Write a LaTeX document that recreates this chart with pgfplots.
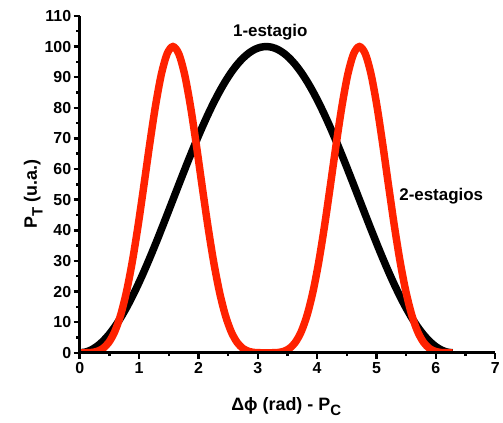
\documentclass[border=0pt]{standalone}
\usepackage{fontspec}
\setmainfont{Liberation Sans}
\usepackage{pgfplots}
\usepackage{pgfplotstable}
\pgfplotsset{compat=1.18}
\definecolor{cRed}{HTML}{FF2200}

% x, 1 stage, 2 stages
\pgfplotstableread{
x      one     two
0.0000 0.000   0.000
0.0982 0.241   0.006
0.1963 0.961   0.091
0.2945 2.153   0.457
0.3927 3.806   1.423
0.4909 5.904   3.401
0.5890 8.427   6.846
0.6872 11.350  12.18
0.7854 14.645  19.72
0.8836 18.280  29.51
0.9817 22.221  41.32
1.0799 26.430  54.49
1.1781 30.866  68.01
1.2763 35.486  80.61
1.3744 40.246  90.90
1.4726 45.099  97.65
1.5708 50.000  100.0
1.6690 54.901  97.65
1.7671 59.754  90.90
1.8653 64.514  80.61
1.9635 69.134  68.01
2.0617 73.570  54.49
2.1598 77.779  41.32
2.2580 81.720  29.51
2.3562 85.355  19.72
2.4544 88.650  12.18
2.5525 91.573  6.846
2.6507 94.096  3.401
2.7489 96.194  1.423
2.8471 97.847  0.457
2.9452 99.039  0.091
3.0434 99.759  0.006
3.1416 100.00  0.000
3.2398 99.759  0.006
3.3379 99.039  0.091
3.4361 97.847  0.457
3.5343 96.194  1.423
3.6325 94.096  3.401
3.7306 91.573  6.846
3.8288 88.650  12.18
3.9270 85.355  19.72
4.0252 81.720  29.51
4.1233 77.779  41.32
4.2215 73.570  54.49
4.3197 69.134  68.01
4.4179 64.514  80.61
4.5160 59.754  90.90
4.6142 54.901  97.65
4.7124 50.000  100.0
4.8106 45.099  97.65
4.9087 40.246  90.90
5.0069 35.486  80.61
5.1051 30.866  68.01
5.2033 26.430  54.49
5.3014 22.221  41.32
5.3996 18.280  29.51
5.4978 14.645  19.72
5.5960 11.350  12.18
5.6941 8.427   6.846
5.7923 5.904   3.401
5.8905 3.806   1.423
5.9887 2.153   0.457
6.0868 0.961   0.091
6.1850 0.241   0.006
6.2832 0.000   0.000
}\tabdata

\newcommand{\sub}[1]{\raisebox{-0.32em}{\fontsize{15}{15}\selectfont #1}}

\begin{document}
\begin{tikzpicture}
\begin{axis}[
  scale only axis,
  width=417pt, height=338pt,
  xmin=0, xmax=7, ymin=0, ymax=110,
  axis x line*=bottom, axis y line*=left,
  axis line style={line width=3pt, -},
  axis on top,
  xtick={0,1,...,7}, ytick={0,10,...,110},
  minor x tick num=1, minor y tick num=1,
  tick align=outside,
  major tick length=6pt, minor tick length=3.5pt,
  tick style={line width=2.5pt, black},
  /pgf/number format/assume math mode=true,
  tick label style={font=\fontsize{16}{18}\selectfont\bfseries},
  xticklabel style={yshift=0pt},
  yticklabel style={xshift=1pt},
  xlabel={Δϕ (rad) - P\sub{C}},
  ylabel={P\sub{T} (u.a.)},
  label style={font=\fontsize{18}{20}\selectfont\bfseries},
  xlabel style={at={(axis description cs:0.497,-0.160)}, anchor=center},
  ylabel style={at={(axis description cs:-0.112,0.47)}, anchor=center, rotate=0},
]
\addplot[black, line width=7.5pt, smooth] table[x=x, y=one] {\tabdata};
\addplot[cRed, line width=7.5pt, smooth] table[x=x, y=two] {\tabdata};
\node[font=\fontsize{17}{19}\selectfont\bfseries] at (axis cs:3.21,104.7) {1-estagio};
\node[font=\fontsize{17}{19}\selectfont\bfseries] at (axis cs:6.09,51.0) {2-estagios};
\end{axis}
\path (current axis.south west) +(-80pt,-70pt) (current axis.north east) +(6pt,16pt);
\end{tikzpicture}
\end{document}
